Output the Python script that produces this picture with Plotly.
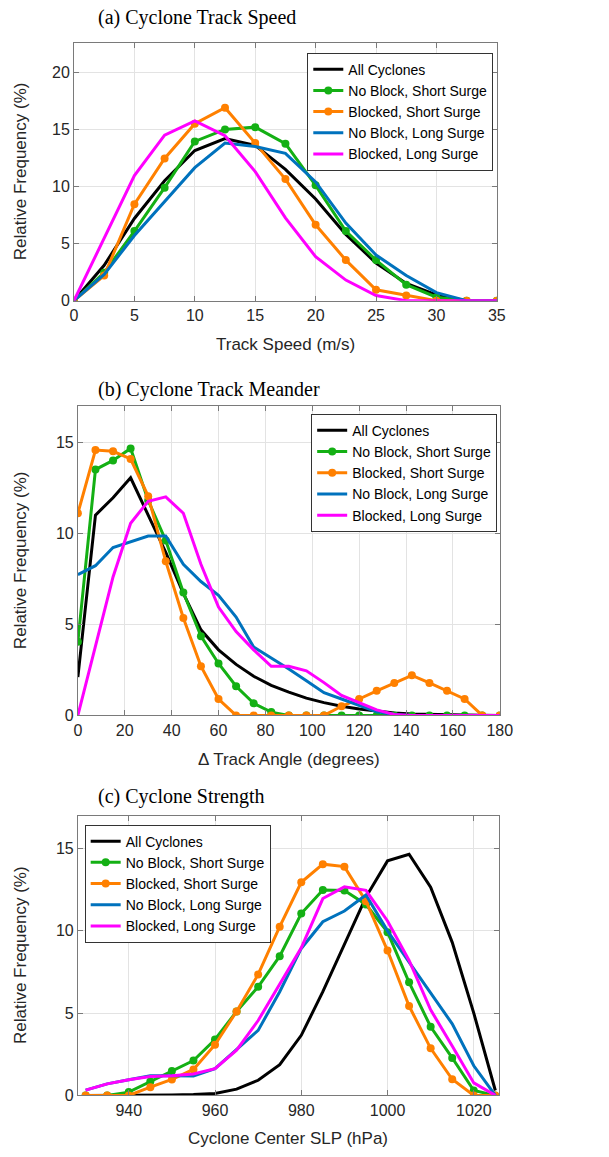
import plotly.graph_objects as go

# ---------------- data ----------------
series_names = ["All Cyclones", "No Block, Short Surge", "Blocked, Short Surge",
                "No Block, Long Surge", "Blocked, Long Surge"]

speed_x = [0, 2.5, 5, 7.5, 10, 12.5, 15, 17.5, 20, 22.5, 25, 27.5, 30, 32.5, 35]
speed_all = [0, 3.1, 7.2, 10.5, 13.15, 14.2, 13.6, 11.5, 8.9, 5.8, 3.3, 1.5, 0.5, 0, 0]
speed_nbss = [0, 2.45, 6.1, 9.9, 13.95, 15.0, 15.2, 13.75, 10.1, 6.1, 3.55, 1.4, 0.3, 0, 0]
speed_bss = [0, 2.2, 8.45, 12.45, 15.5, 16.9, 13.8, 10.65, 6.65, 3.55, 0.95, 0.45, 0, 0, 0]
speed_nbls = [0, 2.3, 5.7, 8.65, 11.65, 13.8, 13.5, 12.9, 10.4, 6.8, 4.0, 2.2, 0.7, 0, 0]
speed_bls = [0, 5.5, 10.95, 14.5, 15.75, 14.45, 11.3, 7.25, 3.85, 1.8, 0.45, 0, 0, 0, 0]

angle_x = [0, 7.5, 15, 22.5, 30, 37.5, 45, 52.5, 60, 67.5, 75, 82.5, 90, 97.5, 105,
           112.5, 120, 127.5, 135, 142.5, 150, 157.5, 165, 172.5, 180]
angle_all = [2.1, 11.0, 11.95, 13.05, 11.0, 8.95, 6.7, 4.7, 3.6, 2.8, 2.15, 1.65, 1.28, 0.95,
             0.7, 0.5, 0.35, 0.22, 0.13, 0.08, 0.05, 0.03, 0.02, 0.01, 0]
angle_nbss = [4.05, 13.5, 14.0, 14.66, 11.8, 9.6, 6.75, 4.35, 2.85, 1.6, 0.66, 0.18, 0, 0, 0,
              0, 0, 0, 0, 0, 0, 0, 0, 0, 0]
angle_bss = [11.1, 14.57, 14.5, 14.08, 12.04, 8.46, 5.35, 2.7, 0.9, 0, 0, 0, 0, 0, 0,
             0.5, 0.9, 1.35, 1.78, 2.2, 1.78, 1.35, 0.9, 0, 0]
angle_nbls = [7.73, 8.22, 9.22, 9.55, 9.85, 9.85, 8.3, 7.35, 6.6, 5.4, 3.75, 3.15, 2.55, 1.9,
              1.25, 0.9, 0.55, 0.2, 0.05, 0, 0, 0, 0, 0, 0]
angle_bls = [0, 3.85, 7.6, 10.55, 11.76, 12.0, 11.1, 8.3, 5.95, 4.6, 3.6, 2.7, 2.7, 2.45,
             1.8, 1.1, 0.7, 0.3, 0.05, 0, 0, 0, 0, 0, 0]

slp_x = [930, 935, 940, 945, 950, 955, 960, 965, 970, 975, 980, 985, 990, 995, 1000,
         1005, 1010, 1015, 1020, 1025]
slp_all = [0, 0, 0, 0, 0.02, 0.05, 0.12, 0.38, 0.92, 1.87, 3.65, 6.3, 9.2, 12.05, 14.25,
           14.65, 12.65, 9.3, 5.0, 0.3]
slp_nbss = [0, 0, 0.2, 0.85, 1.48, 2.12, 3.4, 5.1, 6.6, 8.46, 11.05, 12.48, 12.45, 11.6,
            9.92, 6.87, 4.17, 2.28, 0.3, 0]
slp_bss = [0, 0, 0, 0.5, 0.97, 1.58, 3.08, 5.1, 7.35, 10.25, 12.95, 14.05, 13.9, 11.8,
           8.8, 5.43, 2.86, 0.98, 0, 0]
slp_nbls = [0.32, 0.7, 0.95, 1.2, 1.2, 1.18, 1.63, 2.8, 3.95, 6.3, 8.93, 10.55, 11.2, 12.18,
            10.0, 8.1, 6.2, 4.35, 1.8, 0]
slp_bls = [0.32, 0.7, 0.95, 1.15, 1.2, 1.3, 1.63, 2.75, 4.55, 6.75, 8.97, 11.96, 12.67,
           12.46, 10.6, 8.2, 5.2, 3.0, 0.76, 0]

panel_titles = ["(a) Cyclone Track Speed", "(b) Cyclone Track Meander", "(c) Cyclone Strength"]
x_titles = ["Track Speed (m/s)", "\u0394 Track Angle (degrees)", "Cyclone Center SLP (hPa)"]
y_title = "Relative Frequency (%)"

# ---------------- styling ----------------
W, H = 609, 1157
colors = ["#000000", "#14b014", "#ff8000", "#0072bd", "#ff00ff"]
has_marker = [False, True, True, False, False]
SANS = "Liberation Sans, Arial, Helvetica, sans-serif"
SERIF = "Liberation Serif, Times New Roman, serif"

# panel geometry in pixels: (left, right, top, bottom)
boxes = [(72, 507, 43, 303), (76, 510, 409, 721), (76, 509, 822, 1104)]
xranges = [[0, 35], [0, 180], [928.2, 1025.8]]
yranges = [[0, 22.6], [0, 17], [0, 17]]
xticks = [list(range(0, 36, 5)), list(range(0, 181, 20)), list(range(940, 1021, 20))]
yticks = [[0, 5, 10, 15, 20], [0, 5, 10, 15], [0, 5, 10, 15]]
title_y = [18, 393, 803]
xtitle_y = [347, 765, 1147]
legend_pos = [(312, 53), (316, 417), (83, 831)]

data = [
    (speed_x, [speed_all, speed_nbss, speed_bss, speed_nbls, speed_bls]),
    (angle_x, [angle_all, angle_nbss, angle_bss, angle_nbls, angle_bls]),
    (slp_x, [slp_all, slp_nbss, slp_bss, slp_nbls, slp_bls]),
]

fig = go.Figure()
annotations = []
layout = dict(width=W, height=H, margin=dict(l=0, r=0, t=0, b=0),
              paper_bgcolor="white", plot_bgcolor="white", showlegend=True)

for p in range(3):
    sfx = "" if p == 0 else str(p + 1)
    lg = "legend" if p == 0 else "legend" + str(p + 1)
    xs, ys_list = data[p]
    for k in range(5):
        fig.add_trace(go.Scatter(
            x=xs, y=ys_list[k], name=series_names[k],
            mode="lines+markers" if has_marker[k] else "lines",
            line=dict(color=colors[k], width=3),
            marker=dict(size=8, color=colors[k]),
            xaxis="x" + sfx, yaxis="y" + sfx, legend=lg,
        ))
    l, r, t, b = boxes[p]
    axis_common = dict(showline=True, linecolor="#7a7a7a", linewidth=1, mirror="ticks",
                       ticks="inside", ticklen=5, tickcolor="#7a7a7a",
                       showgrid=True, gridcolor="#e3e3e3", gridwidth=1,
                       zeroline=False, tickfont=dict(family=SANS, size=16, color="#262626"))
    layout["xaxis" + sfx] = dict(axis_common, domain=[l / W, r / W], range=xranges[p],
                                 tickvals=xticks[p], anchor="y" + sfx)
    layout["yaxis" + sfx] = dict(axis_common, domain=[1 - b / H, 1 - t / H], range=yranges[p],
                                 tickvals=yticks[p], anchor="x" + sfx)
    lx, ly = legend_pos[p]
    layout[lg] = dict(x=lx / W, y=1 - ly / H, xanchor="left", yanchor="top",
                      bgcolor="white", bordercolor="#333333", borderwidth=1,
                      font=dict(family=SANS, size=14, color="#000000"),
                      itemwidth=30, tracegroupgap=0)
    annotations.append(dict(text=panel_titles[p], x=95 / W, y=1 - title_y[p] / H,
                            xref="paper", yref="paper", xanchor="left", yanchor="middle",
                            showarrow=False, font=dict(family=SERIF, size=20, color="#000000")))
    annotations.append(dict(text=x_titles[p], x=(l + r) / 2 / W, y=1 - xtitle_y[p] / H,
                            xref="paper", yref="paper", xanchor="center", yanchor="middle",
                            showarrow=False, font=dict(family=SANS, size=17, color="#262626")))
    annotations.append(dict(text=y_title, x=17 / W, y=1 - (t + b) / 2 / H,
                            xref="paper", yref="paper", xanchor="center", yanchor="middle",
                            textangle=-90, showarrow=False,
                            font=dict(family=SANS, size=17, color="#262626")))

layout["annotations"] = annotations
fig.update_layout(**layout)
fig.write_html("out.html")
